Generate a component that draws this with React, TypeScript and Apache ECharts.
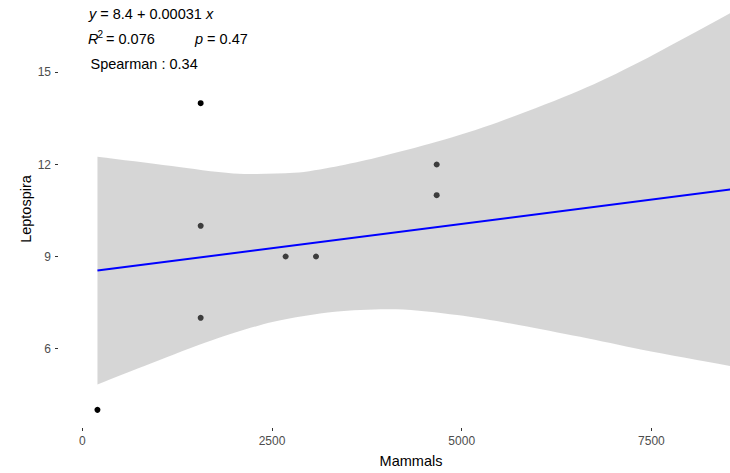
import React, { useEffect, useRef } from "react";
import * as echarts from "echarts";

// observed data
const mammals = [200, 1560, 1560, 1560, 2680, 3080, 4670, 4670];
const leptospira = [4, 14, 10, 7, 9, 9, 12, 11];

// fitted line end points
const fitX = [200, 8540];
const fitY = [8.54, 11.19];

// confidence band edges
const upperX = [200, 1180, 1990, 2790, 3330, 3870, 4670, 5480, 6560, 7310, 8540];
const upperY = [12.25, 11.95, 11.71, 11.73, 11.93, 12.22, 12.74, 13.38, 14.42, 15.3, 16.94];
const lowerX = [200, 910, 1720, 2520, 3330, 4140, 4940, 5750, 6560, 7360, 8540];
const lowerY = [4.83, 5.52, 6.28, 6.87, 7.2, 7.28, 7.09, 6.77, 6.38, 5.97, 5.43];

// axis ticks
const xTicks = [0, 2500, 5000, 7500];
const yTicks = [6, 9, 12, 15];

const FONT = "'Liberation Sans', Arial, sans-serif";

export default function App() {
  const ref = useRef<HTMLDivElement>(null);
  useEffect(() => {
    if (!ref.current) return;
    const chart = echarts.init(ref.current, undefined, { renderer: "svg" });
    const tick = { show: true, length: 3, lineStyle: { color: "#333333", width: 1 } };
    const label = {
      color: "#4d4d4d",
      fontSize: 12,
      fontFamily: FONT,
      margin: 4,
      formatter: (v: number) => String(v),
    };
    chart.setOption({
      animation: false,
      backgroundColor: "#ffffff",
      grid: { left: 58, right: 0, top: 0, bottom: 45, containLabel: false },
      xAxis: {
        type: "value",
        min: -320,
        max: 8535.6,
        axisLine: { show: false, onZero: false },
        splitLine: { show: false },
        axisTick: { ...tick, customValues: xTicks },
        axisLabel: { ...label, customValues: xTicks, margin: 7 },
      },
      yAxis: {
        type: "value",
        min: 3.408,
        max: 17.364,
        axisLine: { show: false, onZero: false },
        splitLine: { show: false },
        axisTick: { ...tick, customValues: yTicks },
        axisLabel: { ...label, customValues: yTicks, margin: 7 },
      },
      series: [
        {
          type: "scatter",
          z: 1,
          symbolSize: 6,
          itemStyle: { color: "#000000", opacity: 1 },
          data: mammals.map((x, i) => [x, leptospira[i]]),
        },
        {
          type: "custom",
          z: 2,
          clip: true,
          data: [[upperX[0], upperY[0]]],
          renderItem: (params: any, api: any) => {
            const pts: number[][] = [];
            const n = upperX.length;
            upperX.forEach((x, i) => {
              const p = api.coord([x, upperY[i]]);
              pts.push(p);
              if (i === 0 || i === n - 1) pts.push(p.slice());
            });
            const m = lowerX.length;
            for (let i = m - 1; i >= 0; i--) {
              const p = api.coord([lowerX[i], lowerY[i]]);
              pts.push(p);
              if (i === 0 || i === m - 1) pts.push(p.slice());
            }
            return {
              type: "polygon",
              shape: { points: pts, smooth: 0.3 },
              style: { fill: "#999999", opacity: 0.4 },
            };
          },
        },
        {
          type: "line",
          z: 3,
          symbol: "none",
          clip: true,
          lineStyle: { color: "#0000ff", width: 2 },
          data: fitX.map((x, i) => [x, fitY[i]]),
        },
      ],
      graphic: [
        {
          type: "text",
          x: 89,
          y: 14,
          style: {
            text: "{i|y} = 8.4 + 0.00031 {i|x}",
            fontSize: 14.5,
            fontFamily: FONT,
            fill: "#000",
            verticalAlign: "middle",
            rich: { i: { fontStyle: "italic", fontSize: 14.5, fontFamily: FONT } },
          },
        },
        {
          type: "text",
          x: 88,
          y: 39,
          style: { text: "R", fontStyle: "italic", fontSize: 14.5, fontFamily: FONT, fill: "#000", verticalAlign: "middle" },
        },
        {
          type: "text",
          x: 97.5,
          y: 34,
          style: { text: "2", fontSize: 10, fontFamily: FONT, fill: "#000", verticalAlign: "middle" },
        },
        {
          type: "text",
          x: 102,
          y: 39,
          style: { text: " = 0.076", fontSize: 14.5, fontFamily: FONT, fill: "#000", verticalAlign: "middle" },
        },
        {
          type: "text",
          x: 195,
          y: 39,
          style: {
            text: "{i|p} = 0.47",
            fontSize: 14.5,
            fontFamily: FONT,
            fill: "#000",
            verticalAlign: "middle",
            rich: { i: { fontStyle: "italic", fontSize: 14.5, fontFamily: FONT } },
          },
        },
        {
          type: "text",
          x: 90.5,
          y: 64,
          style: { text: "Spearman : 0.34", fontSize: 14.5, fontFamily: FONT, fill: "#000", verticalAlign: "middle" },
        },
        {
          type: "text",
          x: 411,
          y: 461,
          style: { text: "Mammals", fontSize: 14.5, fontFamily: FONT, fill: "#000", align: "center", verticalAlign: "middle" },
        },
        {
          type: "text",
          x: 26,
          y: 209,
          rotation: Math.PI / 2,
          style: { text: "Leptospira", fontSize: 14.5, fontFamily: FONT, fill: "#000", align: "center", verticalAlign: "middle" },
        },
      ],
    });
    return () => chart.dispose();
  }, []);
  return (
    <div
      ref={ref}
      style={{ position: "fixed", left: 0, top: 0, width: 730, height: 473, background: "#fff" }}
    />
  );
}
